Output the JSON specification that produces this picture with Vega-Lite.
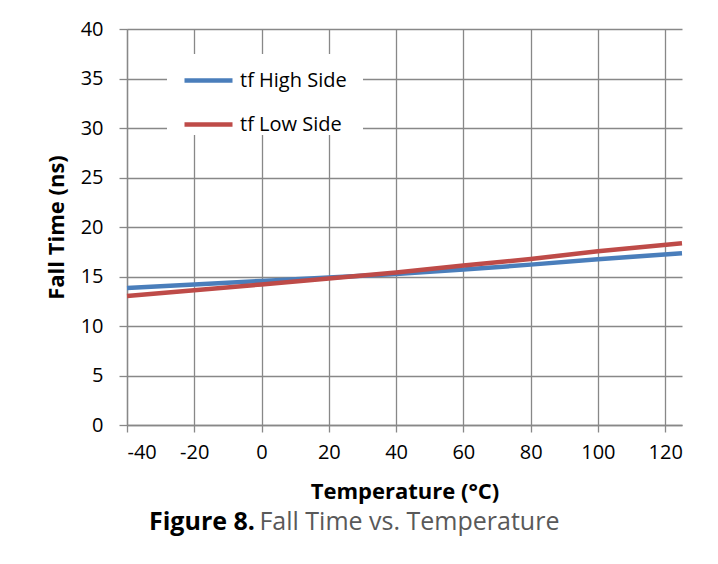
{
  "$schema": "https://vega.github.io/schema/vega-lite/v6.json",
  "width": 555,
  "height": 396,
  "autosize": {"type": "none"},
  "padding": {"left": 127, "top": 29, "right": 36, "bottom": 139},
  "background": "white",
  "config": {"view": {"stroke": null}, "font": "Open Sans"},
  "title": {
    "text": "Figure 8.",
    "subtitle": "\u200b\u00a0\u00a0\u00a0\u00a0\u00a0\u00a0\u00a0\u00a0\u00a0\u00a0\u00a0\u00a0\u00a0\u00a0\u00a0\u00a0\u00a0Fall Time vs. Temperature",
    "orient": "bottom",
    "anchor": "start",
    "align": "left",
    "frame": "group",
    "dx": 22,
    "offset": 8,
    "font": "Open Sans",
    "fontSize": 25,
    "fontWeight": "bold",
    "color": "#000000",
    "subtitleFont": "Open Sans",
    "subtitleFontSize": 25,
    "subtitleFontWeight": "normal",
    "subtitleColor": "#595959",
    "subtitlePadding": -25
  },
  "data": {
    "values": [
      {"series": "tf High Side", "temp": -40, "value": 13.85},
      {"series": "tf High Side", "temp": -20, "value": 14.2},
      {"series": "tf High Side", "temp": 0, "value": 14.55},
      {"series": "tf High Side", "temp": 20, "value": 14.9},
      {"series": "tf High Side", "temp": 40, "value": 15.25},
      {"series": "tf High Side", "temp": 60, "value": 15.7},
      {"series": "tf High Side", "temp": 80, "value": 16.2},
      {"series": "tf High Side", "temp": 100, "value": 16.75},
      {"series": "tf High Side", "temp": 125, "value": 17.35},
      {"series": "tf Low Side", "temp": -40, "value": 13.03},
      {"series": "tf Low Side", "temp": -20, "value": 13.6},
      {"series": "tf Low Side", "temp": 0, "value": 14.2},
      {"series": "tf Low Side", "temp": 20, "value": 14.8},
      {"series": "tf Low Side", "temp": 40, "value": 15.4},
      {"series": "tf Low Side", "temp": 60, "value": 16.1},
      {"series": "tf Low Side", "temp": 80, "value": 16.77},
      {"series": "tf Low Side", "temp": 100, "value": 17.55},
      {"series": "tf Low Side", "temp": 125, "value": 18.35}
    ]
  },
  "mark": {"type": "line", "strokeWidth": 4.5, "strokeCap": "butt"},
  "encoding": {
    "x": {
      "field": "temp",
      "type": "quantitative",
      "scale": {"domain": [-40, 125], "nice": false, "zero": false},
      "axis": {
        "title": "Temperature (°C)",
        "values": [-40, -20, 0, 20, 40, 60, 80, 100, 120],
        "labelExpr": "toString(datum.value)",
        "grid": true,
        "gridColor": "#888888",
        "gridWidth": 1.3,
        "domainColor": "#888888",
        "domainWidth": 1.3,
        "tickColor": "#888888",
        "tickWidth": 1.3,
        "tickSize": 7,
        "labelFont": "Open Sans",
        "labelFontSize": 20,
        "labelColor": "#000000",
        "labelPadding": 10,
        "titleFont": "Open Sans",
        "titleFontSize": 22,
        "titleFontWeight": "bold",
        "titleColor": "#000000",
        "titlePadding": 19
      }
    },
    "y": {
      "field": "value",
      "type": "quantitative",
      "scale": {"domain": [0, 40], "nice": false},
      "axis": {
        "title": "Fall Time (ns)",
        "values": [0, 5, 10, 15, 20, 25, 30, 35, 40],
        "grid": true,
        "gridColor": "#888888",
        "gridWidth": 1.3,
        "domainColor": "#888888",
        "domainWidth": 1.3,
        "tickColor": "#888888",
        "tickWidth": 1.3,
        "tickSize": 8,
        "labelFont": "Open Sans",
        "labelFontSize": 20,
        "labelColor": "#000000",
        "labelPadding": 16,
        "titleFont": "Open Sans",
        "titleFontSize": 22,
        "titleFontWeight": "bold",
        "titleColor": "#000000",
        "titlePadding": 12
      }
    },
    "color": {
      "field": "series",
      "type": "nominal",
      "scale": {"domain": ["tf High Side", "tf Low Side"], "range": ["#4a7ebb", "#be4b48"]},
      "legend": {
        "title": null,
        "orient": "none",
        "legendX": 40,
        "legendY": 25,
        "fillColor": "white",
        "padding": 0,
        "symbolType": "stroke",
        "symbolSize": 2304,
        "symbolStrokeWidth": 4.5,
        "symbolOffset": 15,
        "labelFont": "Open Sans",
        "labelFontSize": 20,
        "labelColor": "#000000",
        "labelOffset": 5,
        "labelExpr": "datum.label + '\u00a0\u00a0\u00a0\u200b'",
        "rowPadding": 7
      }
    }
  }
}
